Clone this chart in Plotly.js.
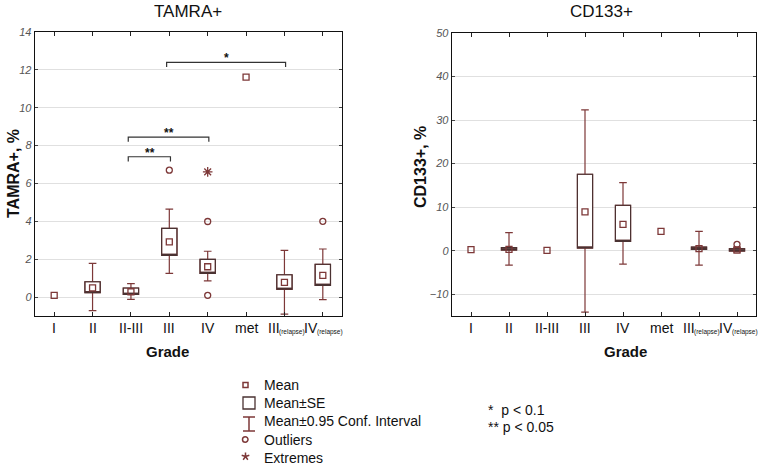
<!DOCTYPE html>
<html>
<head>
<meta charset="utf-8">
<script src="https://cdn.plot.ly/plotly-3.0.1.min.js"></script>
<style>html,body{margin:0;padding:0;background:#fff;}#chart{width:773px;height:467px;}</style>
</head>
<body>
<div id="chart"></div>
<script>
// ---------- data ----------
const categories = ['I', 'II', 'II-III', 'III', 'IV', 'met', 'III(relapse)', 'IV(relapse)'];
const tickMain = ['I', 'II', 'II-III', 'III', 'IV', 'met', 'III', 'IV'];
const tickSub = ['', '', '', '', '', '', '(relapse)', '(relapse)'];

// TAMRA+, %
const tamraMean = [0.09, 0.49, 0.28, 2.91, 1.60, 11.62, 0.78, 1.15];
const tamraSeLo = [null, 0.23, 0.14, 2.20, 1.25, null, 0.41, 0.62];
const tamraSeHi = [null, 0.81, 0.48, 3.63, 1.99, null, 1.18, 1.73];
const tamraCiLo = [null, -0.72, -0.12, 1.25, 0.85, null, -0.90, -0.14];
const tamraCiHi = [null, 1.78, 0.71, 4.64, 2.42, null, 2.47, 2.54];
const tamraOutlierCat = ['III', 'IV', 'IV', 'IV(relapse)'];
const tamraOutlierVal = [6.70, 3.99, 0.09, 4.00];
const tamraExtremeCat = ['IV'];
const tamraExtremeVal = [6.61];

// CD133+, %
const cd133Mean = [0.23, 0.30, 0.08, 8.90, 6.06, 4.45, 0.46, 0.15];
const cd133SeLo = [null, 0.15, null, 0.61, 2.15, null, 0.30, -0.08];
const cd133SeHi = [null, 0.70, null, 17.56, 10.43, null, 0.84, 0.46];
const cd133CiLo = [null, -3.30, null, -14.10, -3.07, null, -3.30, -0.30];
const cd133CiHi = [null, 4.14, null, 32.36, 15.64, null, 4.45, 0.80];
const cd133OutlierCat = ['IV(relapse)'];
const cd133OutlierVal = [1.46];

// significance brackets (TAMRA+)
const sigFrom = ['III', 'II-III', 'II-III'];
const sigTo = ['III(relapse)', 'IV', 'III'];
const sigY = [12.40, 8.45, 7.41];
const sigLabel = ['*', '**', '**'];

// legend
const legendLabels = ['Mean', 'Mean±SE', 'Mean±0.95 Conf. Interval', 'Outliers', 'Extremes'];
const pLabels = ['*  p < 0.1', '** p < 0.05'];

// ---------- styles ----------
const W = 773, H = 467;
const MAROON = '#7d3838';
const DARK = '#4a3232';
const FONT = 'Liberation Sans, Arial, sans-serif';
const px = v => v / W;
const py = v => 1 - v / H;
const idx = c => categories.indexOf(c);

function panelTraces(mean, seLo, seHi, ciLo, ciHi, outCat, outVal, extCat, extVal, xa, ya) {
  const k = [];
  mean.forEach((m, i) => { if (seLo[i] !== null) k.push(i); });
  const traces = [];
  // whiskers (CI) + box in maroon
  traces.push({
    type: 'box', xaxis: xa, yaxis: ya,
    x: k.map(i => i),
    q1: k.map(i => seLo[i]), median: k.map(i => seLo[i]), q3: k.map(i => seHi[i]),
    lowerfence: k.map(i => ciLo[i]), upperfence: k.map(i => ciHi[i]),
    width: 0.4, whiskerwidth: 0.5, boxpoints: false,
    fillcolor: '#ffffff', line: {color: MAROON, width: 1.2},
    hoverinfo: 'skip', showlegend: false
  });
  // SE box outline in dark
  traces.push({
    type: 'box', xaxis: xa, yaxis: ya,
    x: k.map(i => i),
    q1: k.map(i => seLo[i]), median: k.map(i => seLo[i]), q3: k.map(i => seHi[i]),
    lowerfence: k.map(i => seLo[i]), upperfence: k.map(i => seHi[i]),
    width: 0.4, whiskerwidth: 0, boxpoints: false,
    fillcolor: 'rgba(255,255,255,0)', line: {color: DARK, width: 1.1},
    hoverinfo: 'skip', showlegend: false
  });
  traces.push({
    type: 'scatter', mode: 'markers', xaxis: xa, yaxis: ya,
    x: mean.map((m, i) => i), y: mean,
    marker: {symbol: 'square-open', size: 6, color: MAROON, line: {width: 1.3, color: MAROON}},
    hoverinfo: 'skip', showlegend: false
  });
  traces.push({
    type: 'scatter', mode: 'markers', xaxis: xa, yaxis: ya,
    x: outCat.map(idx), y: outVal,
    marker: {symbol: 'circle-open', size: 6, color: MAROON, line: {width: 1.3, color: MAROON}},
    hoverinfo: 'skip', showlegend: false
  });
  if (extCat.length) {
    traces.push({
      type: 'scatter', mode: 'markers', xaxis: xa, yaxis: ya,
      x: extCat.map(idx), y: extVal,
      marker: {symbol: 'asterisk-open', size: 8, color: MAROON, line: {width: 1.3, color: MAROON}},
      hoverinfo: 'skip', showlegend: false
    });
  }
  return traces;
}

const data = [].concat(
  panelTraces(tamraMean, tamraSeLo, tamraSeHi, tamraCiLo, tamraCiHi, tamraOutlierCat, tamraOutlierVal, tamraExtremeCat, tamraExtremeVal, 'x', 'y'),
  panelTraces(cd133Mean, cd133SeLo, cd133SeHi, cd133CiLo, cd133CiHi, cd133OutlierCat, cd133OutlierVal, [], [], 'x2', 'y2')
);

function xAxis(domain, anchor) {
  return {
    domain: domain, anchor: anchor, range: [-0.5, 7.5],
    tickmode: 'array', tickvals: categories.map((c, i) => i), showticklabels: false,
    ticks: 'inside', ticklen: 4, tickcolor: '#222', mirror: 'ticks',
    showline: true, linecolor: '#111', linewidth: 1.3,
    showgrid: false, zeroline: false
  };
}
function yAxis(domain, anchor, range, dtick) {
  return {
    domain: domain, anchor: anchor, range: range, dtick: dtick, tick0: 0,
    ticks: 'inside', ticklen: 3, tickcolor: '#444', mirror: 'ticks',
    showline: true, linecolor: '#111', linewidth: 1.3,
    showgrid: true, gridcolor: '#e0e0e0', gridwidth: 1, zeroline: false,
    tickfont: {family: FONT, size: 11, color: '#555', style: 'italic'}
  };
}

const annotations = [];
const shapes = [];

// category labels (main text + small subscript)
['x', 'x2'].forEach(xr => {
  categories.forEach((c, i) => {
    const hasSub = tickSub[i] !== '';
    annotations.push({xref: xr, yref: 'paper', x: i, y: py(328), text: tickMain[i], showarrow: false,
      font: {family: FONT, size: 14, color: '#111'}, xanchor: hasSub ? 'right' : 'center', yanchor: 'middle',
      xshift: hasSub ? -4.5 : 0, borderpad: 0, borderwidth: 0});
    if (hasSub) {
      annotations.push({xref: xr, yref: 'paper', x: i, y: py(332), text: tickSub[i], showarrow: false,
        font: {family: FONT, size: 6.5, color: '#111'}, xanchor: 'left', yanchor: 'middle', xshift: -5.5,
        borderpad: 0, borderwidth: 0});
    }
  });
});

// titles
annotations.push({xref: 'paper', yref: 'paper', x: px(188), y: py(12), text: 'TAMRA+', showarrow: false, font: {family: FONT, size: 17, color: '#111'}, xanchor: 'center', yanchor: 'middle'});
annotations.push({xref: 'paper', yref: 'paper', x: px(601), y: py(12), text: 'CD133+', showarrow: false, font: {family: FONT, size: 17, color: '#111'}, xanchor: 'center', yanchor: 'middle'});
annotations.push({xref: 'paper', yref: 'paper', x: px(14), y: py(174), text: '<b>TAMRA+, %</b>', textangle: -90, showarrow: false, font: {family: FONT, size: 16, color: '#111'}, xanchor: 'center', yanchor: 'middle'});
annotations.push({xref: 'paper', yref: 'paper', x: px(420), y: py(167), text: '<b>CD133+, %</b>', textangle: -90, showarrow: false, font: {family: FONT, size: 16, color: '#111'}, xanchor: 'center', yanchor: 'middle'});
annotations.push({xref: 'paper', yref: 'paper', x: px(167), y: py(351), text: '<b>Grade</b>', showarrow: false, font: {family: FONT, size: 15, color: '#111'}, xanchor: 'center', yanchor: 'middle'});
annotations.push({xref: 'paper', yref: 'paper', x: px(625), y: py(351), text: '<b>Grade</b>', showarrow: false, font: {family: FONT, size: 15, color: '#111'}, xanchor: 'center', yanchor: 'middle'});

// significance brackets
sigLabel.forEach((lab, i) => {
  const a = idx(sigFrom[i]) - 0.07, b = idx(sigTo[i]) + 0.03, y = sigY[i];
  shapes.push({type: 'path', xref: 'x', yref: 'y',
    path: `M ${a} ${y - 0.25} L ${a} ${y} L ${b} ${y} L ${b} ${y - 0.25}`,
    line: {color: '#333', width: 1.2}});
  annotations.push({xref: 'x', yref: 'y', x: (idx(sigFrom[i]) + idx(sigTo[i])) / 2, y: y,
    text: '<b>' + lab + '</b>', showarrow: false, font: {family: FONT, size: 12, color: '#111'},
    xanchor: 'center', yanchor: 'bottom', yshift: -5});
});

// legend
const rowY = [385, 403, 421, 440, 458];
legendLabels.forEach((t, i) => {
  annotations.push({xref: 'paper', yref: 'paper', x: px(262), y: py(rowY[i]), text: t, showarrow: false,
    font: {family: FONT, size: 14, color: '#111'}, xanchor: 'left', yanchor: 'middle'});
});
shapes.push({type: 'rect', xref: 'paper', yref: 'paper', x0: px(243), x1: px(248), y0: py(382.5), y1: py(387.5), line: {color: MAROON, width: 1.5}});
shapes.push({type: 'rect', xref: 'paper', yref: 'paper', x0: px(243), x1: px(255), y0: py(397), y1: py(409), line: {color: DARK, width: 1.3}});
shapes.push({type: 'path', xref: 'paper', yref: 'paper',
  path: `M ${px(243)} ${py(417)} L ${px(255)} ${py(417)} M ${px(249)} ${py(417)} L ${px(249)} ${py(431)} M ${px(243)} ${py(431)} L ${px(255)} ${py(431)}`,
  line: {color: MAROON, width: 1.5}});
shapes.push({type: 'circle', xref: 'paper', yref: 'paper', x0: px(242.5), x1: px(248), y0: py(436.7), y1: py(442.2), line: {color: MAROON, width: 1.5}});
// asterisk symbol (legend)
const ax = 245.5, ay = 456.5, ar = 4;
let apath = '';
[90, 18, -54, -126, 162].forEach(d => {
  const r = d * Math.PI / 180;
  apath += `M ${px(ax)} ${py(ay)} L ${px(ax + ar * Math.cos(r))} ${py(ay - ar * Math.sin(r))} `;
});
shapes.push({type: 'path', xref: 'paper', yref: 'paper', path: apath, line: {color: MAROON, width: 1.5}});
pLabels.forEach((t, i) => {
  annotations.push({xref: 'paper', yref: 'paper', x: px(486), y: py([410, 427][i]), text: t, showarrow: false,
    font: {family: FONT, size: 14, color: '#111'}, xanchor: 'left', yanchor: 'middle'});
});

const layout = {
  width: W, height: H,
  margin: {l: 0, r: 0, t: 0, b: 0},
  paper_bgcolor: '#ffffff', plot_bgcolor: '#ffffff',
  boxmode: 'overlay',
  showlegend: false,
  xaxis: xAxis([px(35), px(342)], 'y'),
  yaxis: yAxis([py(316), py(32)], 'x', [-1, 14], 2),
  xaxis2: xAxis([px(452), px(756)], 'y2'),
  yaxis2: yAxis([py(316), py(33)], 'x2', [-15, 50], 10),
  annotations: annotations,
  shapes: shapes,
  font: {family: FONT}
};

Plotly.newPlot('chart', data, layout, {displayModeBar: false, staticPlot: true});
</script>
</body>
</html>
